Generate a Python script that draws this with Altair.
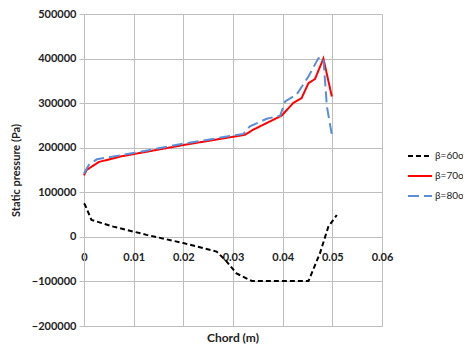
import altair as alt
import pandas as pd

# beta = 60o (black dashed)
x60 = [0.0, 0.0002, 0.0015, 0.0059, 0.0126, 0.02, 0.0267, 0.0287, 0.0307, 0.0338, 0.0452, 0.0475, 0.0492, 0.0509]
y60 = [75000, 72000, 38000, 23000, 4500, -14000, -33000, -55000, -82000, -99000, -99000, -37000, 23000, 49000]

# beta = 70o (red solid)
x70 = [0.0, 0.0005, 0.0030, 0.0072, 0.0200, 0.0324, 0.0340, 0.0398, 0.0421, 0.0438, 0.0452, 0.0465, 0.0482, 0.0499]
y70 = [138000, 150000, 168000, 180000, 206000, 229000, 240000, 272000, 300000, 311000, 345000, 354000, 400000, 315000]

# beta = 80o (blue dashed)
x80 = [0.0, 0.0010, 0.0026, 0.0099, 0.0200, 0.0321, 0.0334, 0.0368, 0.0395, 0.0405, 0.0428, 0.0452, 0.0472, 0.0482, 0.0489, 0.0499]
y80 = [142000, 162000, 174000, 188000, 209000, 231000, 248000, 265000, 272000, 304000, 319000, 360000, 401000, 401000, 293000, 229000]

series = ["β=60o", "β=70o", "β=80o"]
colors = ["#000000", "#FF0000", "#5B8ED6"]
dashes = [[5, 3], [1, 0], [11, 5]]

rows = []
for name, xs, ys in [(series[0], x60, y60), (series[1], x70, y70), (series[2], x80, y80)]:
    for i, (a, b) in enumerate(zip(xs, ys)):
        rows.append({"series": name, "chord": a, "p": b, "order": i})
df = pd.DataFrame(rows)

W, H = 298, 312
ymin, ymax = -200000, 500000
zero_offset = -(H * (0 - ymin) / (ymax - ymin))

font = "Lato"
chart = alt.Chart(df).mark_line(strokeWidth=2).encode(
    x=alt.X("chord:Q", scale=alt.Scale(domain=[0, 0.06], nice=False),
            axis=alt.Axis(values=[0, 0.01, 0.02, 0.03, 0.04, 0.05, 0.06], format="~g",
                          title=None, domain=False, ticks=False, offset=zero_offset,
                          labelPadding=15, labelFont=font, labelFontWeight="bold",
                          labelFontSize=11, labelColor="#222", gridColor="#BEBEBE",
                          labelFlush=False)),
    y=alt.Y("p:Q", scale=alt.Scale(domain=[ymin, ymax], nice=False),
            axis=alt.Axis(values=list(range(-200000, 500001, 100000)), format="d",
                          title="Static pressure (Pa)", titleFont=font, titleFontSize=11,
                          titleFontWeight="bold", titleColor="#222", titlePadding=10,
                          domainColor="#BEBEBE", tickColor="#BEBEBE", tickSize=5,
                          gridColor="#BEBEBE", labelFont=font, labelFontWeight="bold",
                          labelFontSize=11, labelColor="#222", labelPadding=3)),
    color=alt.Color("series:N", scale=alt.Scale(domain=series, range=colors),
                    legend=alt.Legend(title=None, orient="none", legendX=323, legendY=129,
                                      padding=0, symbolType="stroke", symbolStrokeWidth=2,
                                      symbolSize=576, labelFont=font, labelFontSize=10,
                                      labelColor="#222", rowPadding=2, labelOffset=2)),
    strokeDash=alt.StrokeDash("series:N", scale=alt.Scale(domain=series, range=dashes), legend=None),
    order="order:Q",
).properties(
    width=W, height=H,
    title=alt.TitleParams("Chord (m)", orient="bottom", anchor="middle", font=font,
                          fontSize=12, fontWeight="bold", color="#222", offset=2),
    autosize=alt.AutoSizeParams(type="none"),
    padding={"left": 76, "top": 6, "right": 81, "bottom": 21},
).configure_view(stroke=None)

chart.save("out.html", embed_options={"renderer": "svg", "actions": False})
